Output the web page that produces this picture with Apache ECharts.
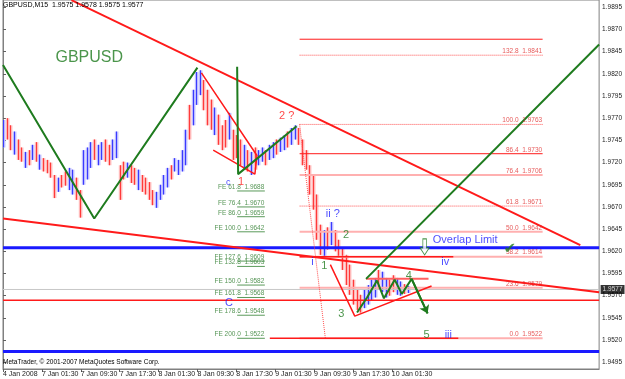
<!DOCTYPE html>
<html>
<head>
<meta charset="utf-8">
<script src="https://cdn.jsdelivr.net/npm/echarts@6/dist/echarts.min.js"></script>
<style>
  html, body { margin: 0; padding: 0; background: #fff; }
  #chart { width: 625px; height: 379px; }
</style>
</head>
<body>
<div id="chart"></div>
<script>
// GBPUSD M15 screenshot, 4 Jan - 10 Jan 2008
// x = number of M15 bars since the first bar on screen

const xTicks = [0, 32, 64, 96, 128, 160, 192, 224, 256, 288, 320];
const xLabels = ['4 Jan 2008', '7 Jan 01:30', '7 Jan 09:30', '7 Jan 17:30', '8 Jan 01:30',
  '8 Jan 09:30', '8 Jan 17:30', '9 Jan 01:30', '9 Jan 09:30', '9 Jan 17:30', '10 Jan 01:30'];
const yTicks = [1.9495, 1.9520, 1.9545, 1.9570, 1.9595, 1.9620, 1.9645, 1.9670, 1.9695,
  1.9720, 1.9745, 1.9770, 1.9795, 1.9820, 1.9845, 1.9870, 1.9895];

// one drawn bar = 3 M15 bars
const barStep = 3;
const barHigh = [
  1.9768, 1.9770, 1.9762, 1.9755, 1.9746, 1.9737, 1.9732, 1.9734, 1.9740, 1.9743,
  1.9729, 1.9725, 1.9723, 1.9720, 1.9706, 1.9703, 1.9706, 1.9710, 1.9714, 1.9712,
  1.9703, 1.9689, 1.9734, 1.9737, 1.9743, 1.9746, 1.9740, 1.9743, 1.9746, 1.9740,
  1.9746, 1.9755, 1.9717, 1.9721, 1.9720, 1.9717, 1.9714, 1.9712, 1.9706, 1.9703,
  1.9698, 1.9689, 1.9687, 1.9695, 1.9706, 1.9714, 1.9717, 1.9725, 1.9723, 1.9734,
  1.9757, 1.9785, 1.9802, 1.9822, 1.9824, 1.9813, 1.9802, 1.9791, 1.9782, 1.9774,
  1.9762, 1.9768, 1.9776, 1.9757, 1.9751, 1.9746, 1.9740, 1.9734, 1.9732, 1.9737,
  1.9734, 1.9737, 1.9734, 1.9740, 1.9743, 1.9746, 1.9748, 1.9751, 1.9755, 1.9759,
  1.9762, 1.9759, 1.9746, 1.9734, 1.9717, 1.9706, 1.9684, 1.9650, 1.9644, 1.9647,
  1.9653, 1.9644, 1.9633, 1.9624, 1.9616, 1.9605, 1.9588, 1.9577, 1.9571, 1.9577,
  1.9582, 1.9588, 1.9590, 1.9599, 1.9597, 1.9590, 1.9588, 1.9593, 1.9590, 1.9586,
  1.9583, 1.9581
];
const barLow = [
  1.9737, 1.9746, 1.9734, 1.9729, 1.9723, 1.9721, 1.9714, 1.9717, 1.9723, 1.9721,
  1.9712, 1.9710, 1.9708, 1.9703, 1.9680, 1.9687, 1.9692, 1.9694, 1.9689, 1.9684,
  1.9678, 1.9658, 1.9695, 1.9701, 1.9714, 1.9723, 1.9717, 1.9723, 1.9721, 1.9717,
  1.9723, 1.9725, 1.9678, 1.9701, 1.9703, 1.9697, 1.9695, 1.9689, 1.9687, 1.9684,
  1.9678, 1.9672, 1.9669, 1.9678, 1.9684, 1.9692, 1.9701, 1.9710, 1.9706, 1.9710,
  1.9717, 1.9746, 1.9762, 1.9785, 1.9796, 1.9779, 1.9762, 1.9757, 1.9751, 1.9740,
  1.9734, 1.9737, 1.9746, 1.9723, 1.9725, 1.9717, 1.9712, 1.9710, 1.9706, 1.9712,
  1.9717, 1.9721, 1.9717, 1.9723, 1.9725, 1.9729, 1.9732, 1.9734, 1.9737, 1.9740,
  1.9746, 1.9740, 1.9717, 1.9712, 1.9684, 1.9667, 1.9633, 1.9616, 1.9613, 1.9622,
  1.9627, 1.9620, 1.9613, 1.9599, 1.9582, 1.9571, 1.9560, 1.9554, 1.9551, 1.9556,
  1.9560, 1.9565, 1.9568, 1.9577, 1.9574, 1.9568, 1.9570, 1.9574, 1.9571, 1.9570,
  1.9572, 1.9573
];
// u = up bar (blue), d = down bar (red)
const barDir = 'udduddudududdd' + 'dudduudd' + 'uuuduudduu' + 'ddudduddddu' + 'uuuduuuuduuu' +
  'dddudddudddudud' + 'uuduuduuduu' + 'dddddddududddddddd' + 'uuuuduudduudu';

// drawn objects [bar, price]
const redTrendUpper = [[56.3, 1.9903], [475.1, 1.9627]];
const redTrendLower = [[0, 1.9657], [490.6, 1.9574]];
const redWedge = [[163.3, 1.9821], [209, 1.9728], [207.3, 1.9707], [173, 1.9734]];
const redWave3 = [[269.4, 1.9605], [289.5, 1.9547], [352.7, 1.9581]];
const redWave4Top = [[298.8, 1.9589], [350.2, 1.9589]];
const greenSwing = [[0, 1.9830], [75.1, 1.9657], [160, 1.9827]];
const greenWaveC = [[192.7, 1.9828], [193.5, 1.9707], [241.6, 1.9761]];
const greenChannel = [[298.8, 1.9589], [490.6, 1.9853]];
const greenForecast = [[291.4, 1.9551], [299.6, 1.9568], [307.8, 1.9587], [313.5, 1.9567],
  [322.4, 1.9588], [328.2, 1.9572], [336.3, 1.9589], [349.4, 1.9550]];
const fibDiagonal = [[244.1, 1.9763], [265.3, 1.9522]];
const fe200Line = [[219.6, 1.9522], [374.7, 1.9522]];
const fib38Line = [[244.1, 1.9614], [370.6, 1.9614]];

const overlapLimit = 1.9624;
const lowerBlue = 1.9507;
const redSupport = 1.9565;
const bidPrice = 1.9577;
const xEnd = 490.6;

const fibStart = 244.1, fibEnd = 444.1;
const fibLevels = ['', '132.8', '100.0', '86.4', '76.4', '61.8', '50.0', '38.2', '23.6', '0.0'];
const fibPrices = [1.9859, 1.9841, 1.9763, 1.9730, 1.9706, 1.9671, 1.9642, 1.9614, 1.9579, 1.9522];

const feStart = 192.7, feEnd = 215.5;
const feLevels = ['FE 61.8', 'FE 76.4', 'FE 86.0', 'FE 100.0', 'FE 127.6', 'FE 132.8',
  'FE 150.0', 'FE 161.8', 'FE 178.6', 'FE 200.0'];
const fePrices = [1.9688, 1.9670, 1.9659, 1.9642, 1.9609, 1.9603, 1.9582, 1.9568, 1.9548, 1.9522];

// text objects [text, bar, price]
const titleNote = [['GBPUSD', 71, 1.9838]];
const greenWaves = [['1', 264.5, 1.9604], ['2', 282.4, 1.9638], ['3', 278.4, 1.9549],
  ['4', 333.9, 1.9592], ['5', 348.6, 1.9526]];
const blueWaves = [['C', 186, 1.9562], ['i', 254.7, 1.9608], ['ii ?', 271.5, 1.9662],
  ['iii', 366.5, 1.9526], ['iv', 364, 1.9608]];
const blueSmall = [['c', 185.3, 1.9698]];
const redWaves = [['1', 196, 1.9698], ['2 ?', 233.5, 1.9772]];
const overlapNote = [['Overlap Limit', 380.4, 1.9633]];
const checkNote = [['\u2714', 417, 1.9623]];
const arrowMark = [[347, 1.9625]];

const GREEN = '#1e7b1e';
const RED = '#ff1a1a';
const BLUE = '#1a1aff';
const FONT = '"Liberation Sans", Arial, sans-serif';

const chart = echarts.init(document.getElementById('chart'));

const bars = barHigh.map((h, i) => [i * barStep, h, barLow[i], barDir[i] === 'u' ? 1 : 0]);

function path(points, color, width, type, z) {
  return {
    type: 'line', data: points, symbol: 'none', showSymbol: false, silent: true,
    animation: false, z: z || 4, lineStyle: { color: color, width: width, type: type || 'solid' }
  };
}

function flat(price, from, to) {
  return [[from, price], [to, price]];
}

function notes(list, label) {
  return {
    type: 'scatter', symbolSize: 1, silent: true, animation: false, z: 6,
    itemStyle: { color: 'rgba(0,0,0,0)' },
    data: list.map(n => ({ name: n[0], value: [n[1], n[2]] })),
    label: Object.assign({ show: true, formatter: '{b}', position: 'inside', fontFamily: FONT }, label)
  };
}

function fibStyle(lv) {
  if (lv === '' || lv === '86.4') return [RED, 1, 'solid'];
  if (lv === '132.8' || lv === '100.0' || lv === '61.8') return ['#ff5050', 1, 'dotted'];
  return ['#ffb0b0', 2, 'solid'];
}

const fibSeries = fibLevels.map((lv, i) => {
  const s = fibStyle(lv);
  return path(flat(fibPrices[i], fibStart, fibEnd), s[0], s[1], s[2], 3);
});
const feSeries = fePrices.map(p => path(flat(p, feStart, feEnd), '#5a9a5a', 1, 'solid', 3));

const option = {
  animation: false,
  backgroundColor: '#fff',
  grid: { left: 1, right: 23, top: 0, bottom: 10, show: true, borderColor: '#808080', borderWidth: 1, backgroundColor: '#fff' },
  xAxis: {
    type: 'value', min: 0, max: xEnd,
    axisLine: { show: true, lineStyle: { color: '#808080' } },
    axisTick: { show: true, customValues: xTicks, length: 3, lineStyle: { color: '#606060' } },
    axisLabel: {
      customValues: xTicks, align: 'left', margin: 2, fontSize: 7, color: '#222', fontFamily: FONT,
      formatter: v => xLabels[xTicks.indexOf(Math.round(v))] || ''
    },
    splitLine: { show: false }
  },
  yAxis: {
    type: 'value', position: 'right', min: 1.94874, max: 1.99032, scale: true,
    axisLine: { show: true, lineStyle: { color: '#808080' } },
    axisTick: { show: true, customValues: yTicks, length: 3, lineStyle: { color: '#606060' } },
    axisLabel: {
      customValues: yTicks, margin: 3, fontSize: 6.5, color: '#222', fontFamily: FONT,
      formatter: v => v.toFixed(4)
    },
    splitLine: { show: false }
  },
  graphic: [
    { type: 'text', left: 3, top: 2, z: 10, style: { text: 'GBPUSD,M15  1.9575 1.9578 1.9575 1.9577', fontSize: 7, fontFamily: FONT, fill: '#000' } },
    { type: 'text', left: 3, top: 359, z: 10, style: { text: 'MetaTrader, \u00a9 2001-2007 MetaQuotes Software Corp.', fontSize: 6.5, fontFamily: FONT, fill: '#000' } }
  ],
  series: [
    {
      type: 'custom', data: bars, clip: true, silent: true, z: 2,
      renderItem: function (params, api) {
        const hi = api.coord([api.value(0), api.value(1)]);
        const lo = api.coord([api.value(0), api.value(2)]);
        const up = api.value(3) === 1;
        const x = Math.round(hi[0]) + 0.5;
        return {
          type: 'group', children: [
            { type: 'rect', shape: { x: x - 1.7, y: hi[1], width: 3.6, height: lo[1] - hi[1] },
              style: { fill: up ? '#bcbcff' : '#ffb8b8' } },
            { type: 'line', shape: { x1: x, y1: hi[1], x2: x, y2: lo[1] },
              style: { stroke: up ? '#3a3aff' : '#ff3a3a', lineWidth: 1 } }
          ]
        };
      }
    }
  ].concat(fibSeries, feSeries, [
    path(flat(bidPrice, 0, xEnd), '#c8c8c8', 1, 'solid', 3),
    path(flat(redSupport, 0, xEnd), RED, 1.5),
    path(flat(overlapLimit, 0, xEnd), BLUE, 3),
    path(flat(lowerBlue, 0, xEnd), BLUE, 3),
    path(fibDiagonal, '#ff5050', 1, 'dotted'),
    path(fe200Line, RED, 1.5),
    path(fib38Line, RED, 1.5),
    path(redTrendUpper, RED, 2),
    path(redTrendLower, RED, 2),
    path(redWedge, RED, 1.5),
    path(redWave3, RED, 1.5),
    path(redWave4Top, '#ff6060', 2),
    path(greenSwing, GREEN, 2),
    path(greenWaveC, GREEN, 2),
    path(greenChannel, GREEN, 2),
    Object.assign(path(greenForecast, GREEN, 2), {
      markLine: {
        silent: true, animation: false, symbol: ['none', 'arrow'], symbolSize: 8, label: { show: false },
        lineStyle: { color: GREEN, width: 2, type: 'solid' },
        data: [[{ coord: greenForecast[greenForecast.length - 2] }, { coord: greenForecast[greenForecast.length - 1] }]]
      }
    }),
    {
      type: 'scatter', data: arrowMark, silent: true, z: 6,
      symbol: 'path://M3,0 L7,0 L7,9 L10,9 L5,16 L0,9 L3,9 Z', symbolSize: [9, 16],
      itemStyle: { color: '#fff', borderColor: GREEN, borderWidth: 1 }
    },
    notes([[bidPrice.toFixed(4), xEnd, bidPrice]],
      { position: 'right', distance: 1, fontSize: 6.5, color: '#fff', backgroundColor: '#000', padding: [1, 2, 1, 2] }),
    notes(fibLevels.map((lv, i) => [lv === '' ? '' : lv + '  ' + fibPrices[i].toFixed(4), fibEnd, fibPrices[i]]),
      { position: 'left', distance: 0, offset: [0, -4], fontSize: 6.5, color: '#e03030' }),
    notes(feLevels.map((lv, i) => [lv + '  ' + fePrices[i].toFixed(4), feEnd, fePrices[i]]),
      { position: 'left', distance: 0, offset: [0, -4], fontSize: 6.5, color: '#2a7a2a' }),
    notes(titleNote, { fontSize: 16, color: GREEN }),
    notes(greenWaves, { fontSize: 11, color: GREEN }),
    notes(blueWaves, { fontSize: 11, color: BLUE }),
    notes(blueSmall, { fontSize: 9, color: BLUE }),
    notes(redWaves, { fontSize: 11, color: RED }),
    notes(overlapNote, { fontSize: 11, color: BLUE }),
    notes(checkNote, { fontSize: 15, color: GREEN, fontFamily: '"DejaVu Sans", sans-serif' })
  ])
};

chart.setOption(option);
</script>
</body>
</html>
